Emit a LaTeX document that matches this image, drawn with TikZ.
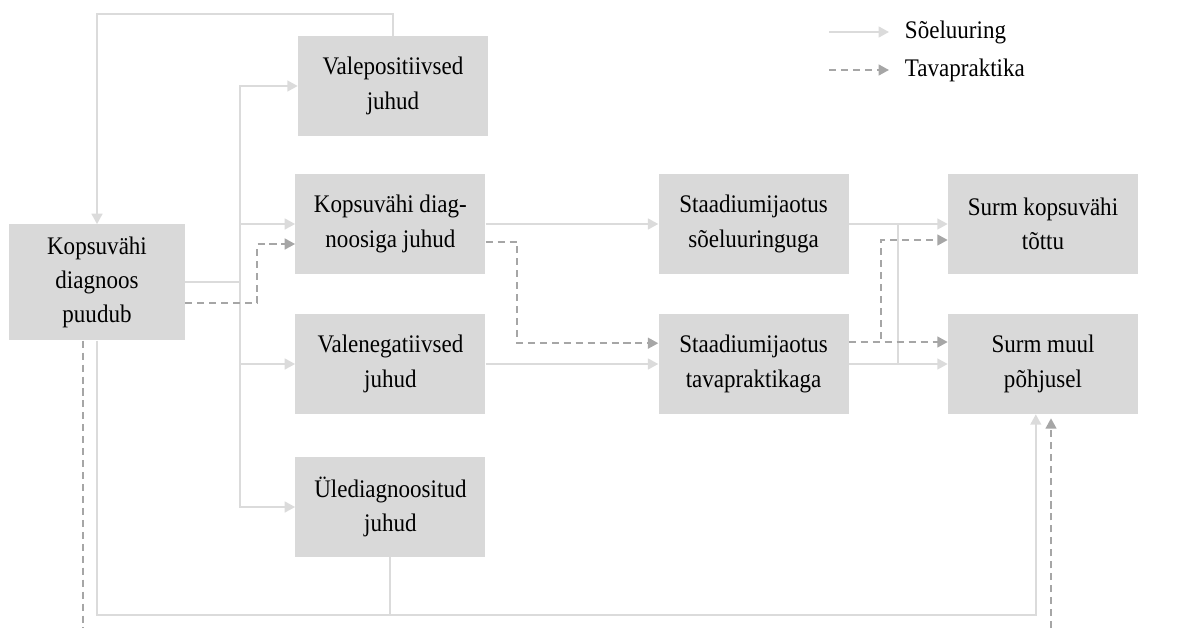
\documentclass[tikz,border=0pt]{standalone}
\usepackage{fontspec}
\setmainfont{Liberation Serif}[FakeStretch=0.91]
\usepackage{tikz}
\usetikzlibrary{arrows.meta, positioning}
\definecolor{boxgray}{HTML}{D9D9D9}
\definecolor{linegray}{HTML}{DBDBDB}
\definecolor{dashgray}{HTML}{A6A6A6}

\begin{document}
\begin{tikzpicture}[font=\fontsize{18}{24.5}\selectfont, >={Triangle[length=2.6mm,width=2.7mm]},
    box/.style={fill=boxgray, align=center, inner sep=2pt, minimum width=4.75cm, minimum height=2.5cm},
    sline/.style={draw=linegray, line width=1.4pt},
    dline/.style={draw=dashgray, line width=1.4pt, dash pattern=on 5pt off 3.5pt}]
    \useasboundingbox (0,0) rectangle (30,-15.7);

    % legend
    \coordinate (legS1) at (20.725,-0.8);
    \coordinate (legS2) at (22.225,-0.8);
    \coordinate (legD1) at (20.725,-1.75);
    \coordinate (legD2) at (22.225,-1.75);
    \draw[sline, ->] (legS1) -- (legS2);
    \draw[dline, ->] (legD1) -- (legD2);
    \node[anchor=west] (legsoel) at (22.5,-0.8) {Sõeluuring};
    \node[anchor=west] (legtava) at (22.5,-1.75) {Tavapraktika};

    % boxes
    \node[box, minimum width=4.4cm, minimum height=2.9cm] (nodiag) at (2.425,-7.06) {Kopsuvähi\\diagnoos\\puudub};
    \node[box] (vpos) at (9.825,-2.15) {Valepositiivsed\\juhud};
    \node[box] (kdiag) at (9.76,-5.6) {Kopsuvähi diag-\\noosiga juhud};
    \node[box] (vneg) at (9.76,-9.1) {Valenegatiivsed\\juhud};
    \node[box] (ule) at (9.76,-12.675) {Ülediagnoositud\\juhud};
    \node[box] (stsoel) at (18.84,-5.6) {Staadiumijaotus\\sõeluuringuga};
    \node[box] (sttava) at (18.84,-9.1) {Staadiumijaotus\\tavapraktikaga};
    \node[box] (surmk) at (26.075,-5.6) {Surm kopsuvähi\\tõttu};
    \node[box] (surmm) at (26.075,-9.1) {Surm muul\\põhjusel};

    \coordinate (trunk) at (6.0,-7.06);
    \coordinate (joint) at (22.45,-5.6);
    \coordinate (lowrail) at (0,-15.375);
    \coordinate (dashout) at (2.075,-15.7);
    \coordinate (dashin) at (26.275,-15.7);

    % screening
    \draw[sline, ->] (vpos.north) -- ++(0,0.55) -| (nodiag.north);
    \draw[sline] (nodiag.east) -- (trunk);
    \draw[sline, ->] (trunk) |- (vpos.west);
    \draw[sline, ->] (trunk) |- (kdiag.west);
    \draw[sline, ->] (trunk) |- (vneg.west);
    \draw[sline, ->] (trunk) |- (ule.west);
    \draw[sline, ->] (kdiag.east) -- (stsoel.west);
    \draw[sline, ->] (vneg.east) -- (sttava.west);
    \draw[sline, ->] (stsoel.east) -- (surmk.west);
    \draw[sline, ->] (sttava.east) -- (surmm.west);
    \draw[sline] (joint) -- (joint |- sttava.east);
    \draw[sline, ->] (nodiag.south) -- (nodiag.south |- lowrail) -| ([xshift=-0.18cm]surmm.south);
    \draw[sline] (ule.south) -- (ule.south |- lowrail);

    % usual practice
    \draw[dline, ->] ([yshift=-0.52cm]nodiag.east) -- ++(1.8,0) |- ([yshift=-0.5cm]kdiag.west);
    \draw[dline, ->] ([yshift=-0.45cm]kdiag.east) -- ++(0.79,0) |- ([yshift=0.52cm]sttava.west);
    \draw[dline, ->] ([yshift=0.55cm]sttava.east) -- ([yshift=0.55cm]surmm.west);
    \draw[dline, ->] ([yshift=0.55cm]sttava.east) -- ++(0.81,0) |- ([yshift=-0.4cm]surmk.west);
    \draw[dline] ([xshift=-0.35cm]nodiag.south) -- (dashout);
    \draw[dline, ->] (dashin) -- ([xshift=0.2cm, yshift=-0.1cm]surmm.south);
\end{tikzpicture}
\end{document}
